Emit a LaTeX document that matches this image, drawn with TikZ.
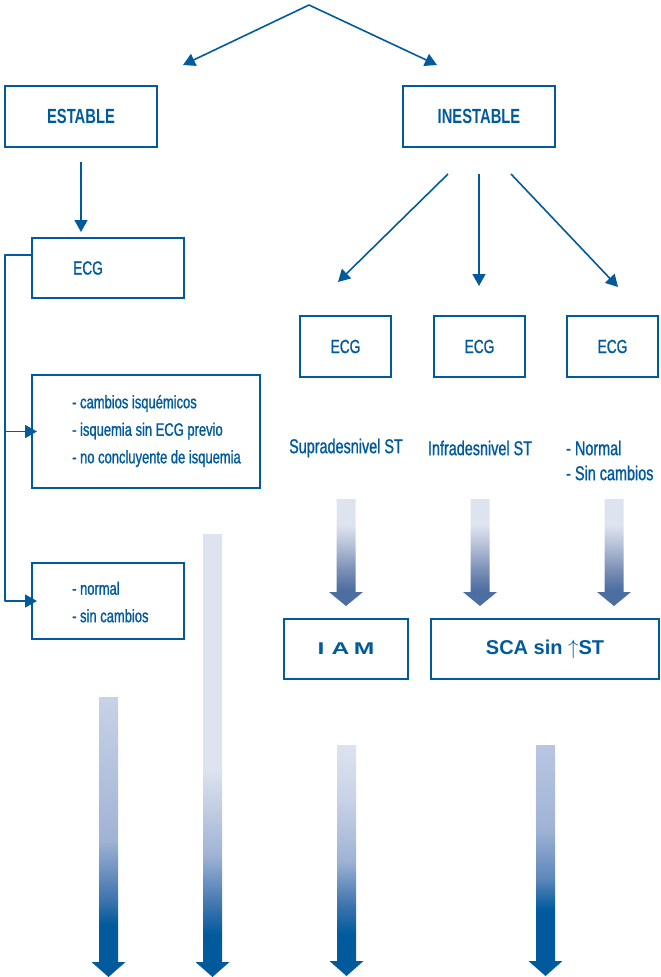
\documentclass[tikz,border=0pt]{standalone}
\usepackage{fontspec}
\usepackage{graphicx}
\setmainfont{Liberation Sans}[FakeStretch=0.72, UprightFeatures={FakeBold=1.1}]
\newfontfamily\widesans{Liberation Sans}
\usetikzlibrary{arrows.meta}

\definecolor{dblue}{HTML}{005A9C}
\definecolor{lightA}{HTML}{DDE3EF}
\definecolor{lightB}{HTML}{C8D2E7}
\definecolor{lightC}{HTML}{B8C6E2}
\definecolor{midA}{HTML}{A0B3D5}
\definecolor{midB}{HTML}{3E74AE}
\definecolor{greyA}{HTML}{4D6EA0}
\definecolor{greyB}{HTML}{7A8FB5}
\definecolor{greyC}{HTML}{B6C1D8}

% shadings for the fat arrows (path is mapped onto 25bp..75bp)
\pgfdeclareverticalshading{arrowM}{100bp}{color(0bp)=(greyA); color(32.5bp)=(greyA); color(41.8bp)=(greyB); color(53.5bp)=(greyC); color(62.8bp)=(lightA); color(100bp)=(lightA)}
\pgfdeclareverticalshading{arrowA}{100bp}{color(0bp)=(dblue); color(34.3bp)=(dblue); color(38.8bp)=(midB); color(49.5bp)=(midA); color(62bp)=(midA!50!lightB); color(75bp)=(lightB); color(100bp)=(lightB)}
\pgfdeclareverticalshading{arrowB}{100bp}{color(0bp)=(dblue); color(29.7bp)=(dblue); color(33bp)=(midB); color(38.8bp)=(midA); color(48.4bp)=(lightA); color(100bp)=(lightA)}
\pgfdeclareverticalshading{arrowC}{100bp}{color(0bp)=(dblue); color(33.9bp)=(dblue); color(40.4bp)=(midB); color(50.1bp)=(midA); color(63.1bp)=(lightB); color(75bp)=(lightA); color(100bp)=(lightA)}
\pgfdeclareverticalshading{arrowD}{100bp}{color(0bp)=(dblue); color(39.3bp)=(dblue); color(46bp)=(midB!70!midA); color(56.8bp)=(midA); color(75bp)=(lightC); color(100bp)=(lightC)}

\tikzset{
  box/.style={draw=dblue, line width=2pt, text=dblue, inner sep=0pt},
  conn/.style={draw=dblue, line width=1.6pt, line join=round, -{Triangle[width=13pt,length=12pt]}},
  lbl/.style={text=dblue, inner sep=0pt, font=\fontsize{20}{25}\selectfont},
  btxt/.style={text=dblue, inner sep=0pt, anchor=west, align=left, font=\fontsize{18}{27.5}\selectfont},
  head/.style={font=\bfseries\fontsize{20.5}{24}\selectfont},
}

\begin{document}
\begin{tikzpicture}[x=1pt,y=-1pt]
  \useasboundingbox (0,0) rectangle (661,977);

  % top
  \coordinate (apex) at (309,5);
  \coordinate (toL) at (183,65);
  \coordinate (toR) at (437,65);
  \draw[conn] (apex) -- (toL);
  \draw[conn] (apex) -- (toR);

  \node[box, head, minimum width=152pt, minimum height=61pt] (estable) at (81,116.5) {ESTABLE};
  \node[box, head, minimum width=152pt, minimum height=61pt] (inestable) at (479,116.5) {INESTABLE};

  % left branch
  \node[box, minimum width=152pt, minimum height=60pt] (ecgL) at (108,268) {};
  \node[lbl, anchor=west, font=\fontsize{19}{23}\selectfont] (ecgLtxt) at (73,268) {ECG};

  \node[box, minimum width=228pt, minimum height=113pt] (isq) at (146,431.5) {};
  \node[btxt] (isqtxt) at (72,431) {- cambios isquémicos\\- isquemia sin ECG previo\\- no concluyente de isquemia};

  \node[box, minimum width=152pt, minimum height=76pt] (nor) at (108,601) {};
  \node[btxt] (nortxt) at (72,602) {- normal\\- sin cambios};

  \draw[conn] ([yshift=-14pt]estable.south) -- ([yshift=5pt]estable.south |- ecgL.north);
  \coordinate (rail) at (5,255);
  \draw[conn] ([yshift=13pt]ecgL.west) -- (rail) |- ([xshift=6pt]nor.west);
  \draw[conn] (rail |- isq.west) -- ([xshift=6pt]isq.west);

  % right branch
  \node[box, lbl, minimum width=91pt, minimum height=61pt, font=\fontsize{19}{23}\selectfont] (ecg1) at (345.5,346.5) {ECG};
  \node[box, lbl, minimum width=91pt, minimum height=61pt, font=\fontsize{19}{23}\selectfont] (ecg2) at (479.5,346.5) {ECG};
  \node[box, lbl, minimum width=91pt, minimum height=61pt, font=\fontsize{19}{23}\selectfont] (ecg3) at (612.5,346.5) {ECG};

  \draw[conn] ([xshift=-31pt,yshift=-26pt]inestable.south) -- ([xshift=-7.5pt,yshift=33pt]ecg1.north);
  \draw[conn] ([yshift=-26pt]inestable.south) -- ([yshift=29pt]inestable.south |- ecg2.north);
  \draw[conn] ([xshift=32pt,yshift=-26pt]inestable.south) -- ([xshift=5.5pt,yshift=28pt]ecg3.north);

  \node[lbl] (supra) at (346,448) {Supradesnivel ST};
  \node[lbl] (infra) at (480,448) {Infradesnivel ST};
  \node[lbl, anchor=west, align=left] (normal) at (566,460.5) {- Normal\\- Sin cambios};

  \node[box, minimum width=124pt, minimum height=60pt] (iam) at (346,649)
    {\widesans\bfseries\fontsize{17}{20}\selectfont\scalebox{1.45}[1]{I\hspace{5pt}A\hspace{3pt}M}};
  \node[box, minimum width=228pt, minimum height=60pt] (sca) at (545,649)
    {\widesans\bfseries\fontsize{20}{24}\selectfont SCA sin $\uparrow$ST};

  % fat arrows
  \foreach \x/\ya/\yb/\yc/\sh in {346/499/592/606/arrowM, 480/499/592/606/arrowM, 614/499/592/606/arrowM,
      108.5/697/962/977/arrowA, 212.5/534/962/977/arrowB, 346.5/745/961/976/arrowC, 545.5/745/961/976/arrowD}
    \shade[shading=\sh] (\x-9.5,\ya) -- (\x+9.5,\ya) -- (\x+9.5,\yb) -- (\x+17,\yb) -- (\x,\yc)
      -- (\x-17,\yb) -- (\x-9.5,\yb) -- cycle;
\end{tikzpicture}
\end{document}
